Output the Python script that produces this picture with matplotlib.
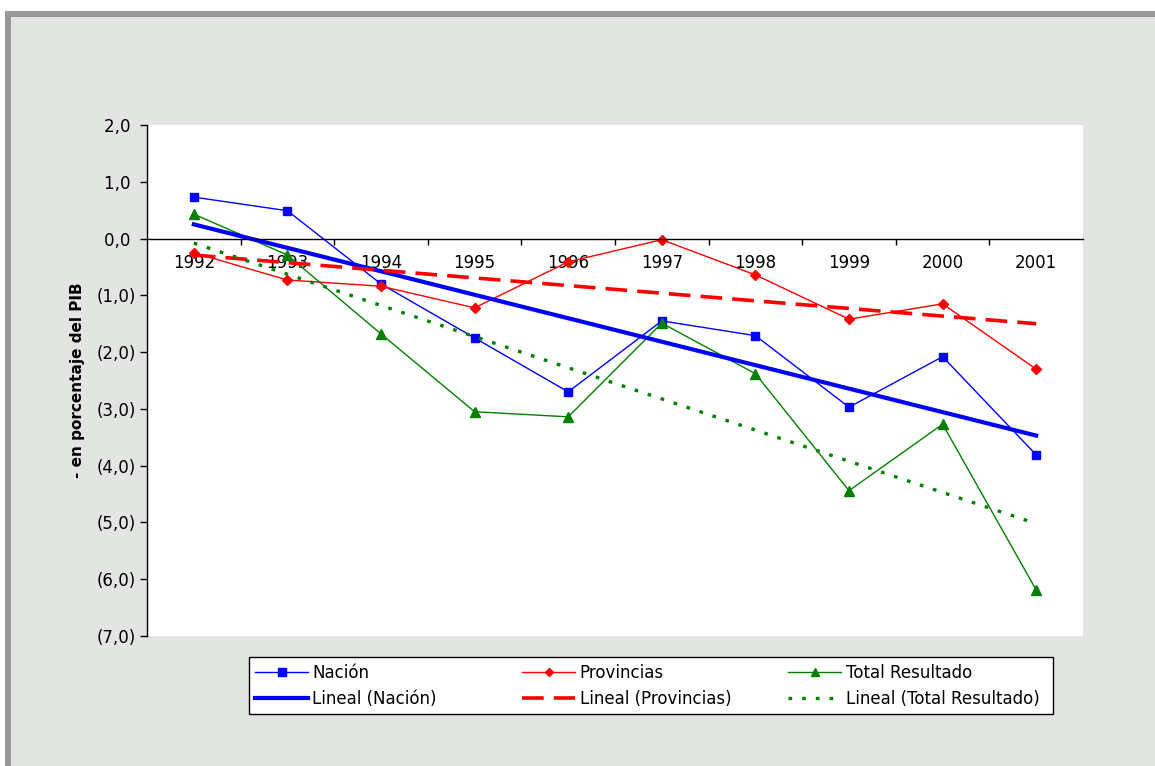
import matplotlib.pyplot as plt
from matplotlib.patches import Rectangle

plt.rcParams['font.family'] = ['DejaVu Sans']

years = ['1992', '1993', '1994', '1995', '1996', '1997', '1998', '1999', '2000', '2001']
nacion = [0.73, 0.49, -0.80, -1.75, -2.70, -1.45, -1.71, -2.97, -2.08, -3.81]
provincias = [-0.25, -0.73, -0.84, -1.22, -0.41, -0.02, -0.64, -1.42, -1.15, -2.30]
total = [0.43, -0.29, -1.68, -3.05, -3.14, -1.49, -2.38, -4.44, -3.27, -6.19]

# linear trend lines, start (1992) and end (2001) values
trend_nacion = [0.25, -3.47]
trend_provincias = [-0.29, -1.50]
trend_total = [-0.08, -5.02]

yticks = [2, 1, 0, -1, -2, -3, -4, -5, -6, -7]
ytick_labels = ['2,0 ', '1,0 ', '0,0 ', '(1,0)', '(2,0)', '(3,0)', '(4,0)', '(5,0)', '(6,0)', '(7,0)']

W, H = 1155, 766
fig = plt.figure(figsize=(W / 100, H / 100), dpi=100)
fig.patch.set_facecolor('#e3e5e2')

# white margin and grey frame like the original screenshot
fig.patches.append(Rectangle((0, 1 - 11 / H), 1, 11 / H, transform=fig.transFigure,
                             facecolor='white', edgecolor='none', zorder=0))
fig.patches.append(Rectangle((0, 0), 5 / W, 1, transform=fig.transFigure,
                             facecolor='white', edgecolor='none', zorder=0))
fig.patches.append(Rectangle((5 / W, 0), 6 / W, 1 - 11 / H, transform=fig.transFigure,
                             facecolor='#999999', edgecolor='none', zorder=0))
fig.patches.append(Rectangle((5 / W, 1 - 17 / H), 1, 6 / H, transform=fig.transFigure,
                             facecolor='#999999', edgecolor='none', zorder=0))

ax = fig.add_axes([147 / W, 1 - 636 / H, 936 / W, 511 / H])
ax.set_facecolor('white')

x = list(range(len(years)))
l1, = ax.plot(x, nacion, color='#0000ff', lw=1, marker='s', ms=6, label='Nación')
l2, = ax.plot(x, provincias, color='#ff0000', lw=1, marker='D', ms=5, label='Provincias')
l3, = ax.plot(x, total, color='#008000', lw=1, marker='^', ms=7, label='Total Resultado')

xe = [x[0], x[-1]]
t1, = ax.plot(xe, trend_nacion, color='#0000ff', lw=3.0, label='Lineal (Nación)')
t2, = ax.plot(xe, trend_provincias, color='#ff0000', lw=2.6, dashes=(6, 2.8),
              label='Lineal (Provincias)')
t3, = ax.plot(xe, trend_total, color='#008000', lw=2.4, dashes=(1.1, 3.0),
              label='Lineal (Total Resultado)')

ax.set_xlim(-0.5, len(years) - 0.5)
ax.set_ylim(-7, 2)
ax.set_yticks(yticks)
ax.set_yticklabels(ytick_labels)

# category axis crosses at zero
for s in ['top', 'right']:
    ax.spines[s].set_visible(False)
ax.spines['bottom'].set_position(('data', 0))
ax.spines['bottom'].set_linewidth(1)
ax.spines['left'].set_linewidth(1)
ax.set_xticks([i + 0.5 for i in range(len(years) - 1)])
ax.set_xticklabels([])
ax.set_xticks(x, years, minor=True)
ax.tick_params(axis='x', which='major', direction='out', length=4, width=1)
ax.tick_params(axis='x', which='minor', length=0, pad=11, labelsize=12)
ax.tick_params(axis='y', direction='out', length=5, width=1, labelsize=12, pad=3)

ax.set_ylabel('- en porcentaje del PIB', fontsize=11, fontweight='bold', labelpad=8)

# legend: three columns placed at fixed positions inside one frame
fig.patches.append(Rectangle((249 / W, 1 - 714 / H), 804 / W, 57 / H, transform=fig.transFigure,
                             facecolor='white', edgecolor='black', lw=1, zorder=5))
columns = [(255, [l1, t1]), (522, [l2, t2]), (788, [l3, t3])]
for cx, handles in columns:
    leg = fig.legend(handles, [h.get_label() for h in handles], loc='upper left',
                     bbox_to_anchor=(cx / W, 1 - 664 / H), frameon=False,
                     fontsize=12, handlelength=3.2, handletextpad=0.25,
                     borderpad=0, borderaxespad=0, labelspacing=0.45, markerscale=0.85)
    leg.set_zorder(6)

fig.savefig('out.png', dpi=100, facecolor=fig.get_facecolor())
